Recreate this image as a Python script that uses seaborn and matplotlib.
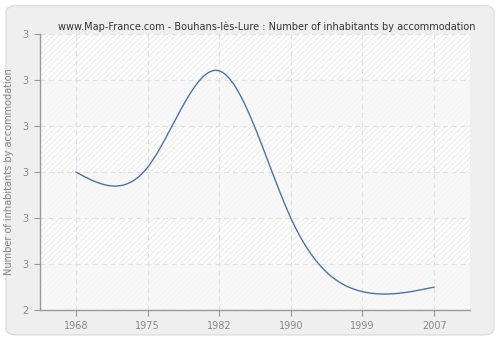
import numpy as np
import pandas as pd
import seaborn as sns
import matplotlib
matplotlib.use("Agg")
import matplotlib.pyplot as plt
from matplotlib.patches import FancyBboxPatch, Rectangle

years = ["1968", "1975", "1982", "1990", "1999", "2007"]
values = [2.70, 2.71, 2.92, 2.60, 2.44, 2.45]
y_ticks = [2.4, 2.5, 2.6, 2.7, 2.8, 2.9, 3.0]
y_tick_labels = ["2", "3", "3", "3", "3", "3", "3"]
title = "www.Map-France.com - Bouhans-lès-Lure : Number of inhabitants by accommodation"
ylabel = "Number of inhabitants by accommodation"


def natural_spline(x, y, n=400):
    x = np.asarray(x, float)
    y = np.asarray(y, float)
    k = len(x)
    h = np.diff(x)
    A = np.zeros((k, k))
    b = np.zeros(k)
    A[0, 0] = A[-1, -1] = 1
    for i in range(1, k - 1):
        A[i, i - 1] = h[i - 1]
        A[i, i] = 2 * (h[i - 1] + h[i])
        A[i, i + 1] = h[i]
        b[i] = 6 * ((y[i + 1] - y[i]) / h[i] - (y[i] - y[i - 1]) / h[i - 1])
    M = np.linalg.solve(A, b)
    xs = np.linspace(x[0], x[-1], n)
    ys = np.empty_like(xs)
    for j, t in enumerate(xs):
        i = min(np.searchsorted(x, t, side="right") - 1, k - 2)
        a = x[i + 1] - t
        c = t - x[i]
        ys[j] = (M[i] * a ** 3 / (6 * h[i]) + M[i + 1] * c ** 3 / (6 * h[i])
                 + (y[i] / h[i] - M[i] * h[i] / 6) * a
                 + (y[i + 1] / h[i] - M[i + 1] * h[i] / 6) * c)
    return xs, ys


pos = np.arange(len(years))
xs, ys = natural_spline(pos, values)
curve = pd.DataFrame({"x": xs, "y": ys})

sns.set_theme(style="white")
plt.rcParams["font.family"] = ["DejaVu Sans"]
plt.rcParams["hatch.linewidth"] = 0.6

fig = plt.figure(figsize=(5, 3.4), dpi=100)
fig.patch.set_facecolor("white")
bg = FancyBboxPatch((0.012, 0.015), 0.976, 0.968,
                    boxstyle="round,pad=0,rounding_size=0.02",
                    transform=fig.transFigure, facecolor="#efefef",
                    edgecolor="#dedede", linewidth=1.0, zorder=-10)
fig.add_artist(bg)

ax = fig.add_axes([0.08, 0.088, 0.86, 0.812])
ax.set_zorder(5)
ax.set_facecolor("white")
ax.patch.set_hatch("//////")
ax.patch.set_edgecolor("#e6e6e6")

for lo in [2.4, 2.6, 2.8]:
    ax.add_patch(Rectangle((-0.5, lo), 6, 0.1, facecolor="#f7f7f7", alpha=0.85,
                           edgecolor="none", zorder=0.5))

sns.lineplot(data=curve, x="x", y="y", ax=ax, color="#4a74aa", linewidth=1.0,
             zorder=3)

ax.set_xlim(-0.5, 5.5)
ax.set_ylim(2.4, 3.0)
ax.set_xticks(pos)
ax.set_xticklabels(years)
ax.set_yticks(y_ticks)
ax.set_yticklabels(y_tick_labels)
ax.grid(True, color="#e2e2e2", linestyle=(0, (4, 3)), linewidth=0.9)
for gl in ax.get_xgridlines() + ax.get_ygridlines():
    gl.set_zorder(1)

for s in ["top", "right"]:
    ax.spines[s].set_visible(False)
for s in ["left", "bottom"]:
    ax.spines[s].set_color("#999999")
    ax.spines[s].set_linewidth(1.0)

ax.tick_params(axis="both", which="both", length=4, width=0.8, color="#999999",
               labelcolor="#888888", labelsize=7, direction="out",
               left=True, bottom=True)
ax.tick_params(axis="x", pad=4)
ax.tick_params(axis="y", pad=4)
ax.set_xlabel("")
ax.set_ylabel(ylabel, color="#888888", fontsize=7, labelpad=6)
fig.text(0.534, 0.905, title, ha="center", va="bottom", fontsize=7, color="#333333")

fig.savefig("out.png", dpi=100, facecolor=fig.get_facecolor())
